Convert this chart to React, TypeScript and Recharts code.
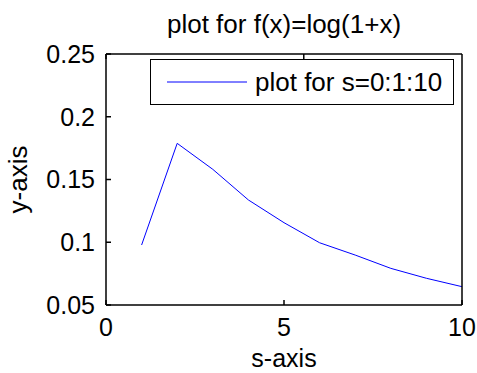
import { LineChart, Line, XAxis, YAxis, Legend, Label } from 'recharts';

// values
const sValues = [1, 2, 3, 4, 5, 6, 7, 8, 9, 10];
const fValues = [0.0978, 0.1788, 0.1581, 0.1337, 0.1156, 0.0996, 0.0898, 0.0792, 0.0713, 0.0646];
const xTicks = [0, 5, 10];
const yTicks = [0.05, 0.1, 0.15, 0.2, 0.25];

const data = sValues.map((s, i) => ({ s, f: fValues[i] }));

const FONT = 'Liberation Sans, Arial, sans-serif';
const tickStyle = { fontSize: 25, fill: '#000', fontFamily: FONT };
const axisStroke = { stroke: '#000', strokeWidth: 1.5 };

function LegendBox() {
  return (
    <div
      style={{
        position: 'absolute',
        left: 150,
        top: 59,
        width: 302,
        height: 44,
        border: '1px solid #000',
        background: '#fff',
        display: 'flex',
        alignItems: 'center',
        fontFamily: FONT,
        fontSize: 26,
        color: '#000',
        boxSizing: 'content-box',
      }}
    >
      <svg width={96} height={10} style={{ marginLeft: 16 }}>
        <line x1={0} y1={5} x2={80} y2={5} stroke="#0000ff" strokeWidth={1} />
      </svg>
      <span style={{ marginLeft: -8, lineHeight: 1 }}>plot for s=0:1:10</span>
    </div>
  );
}

export default function App() {
  return (
    <div style={{ position: 'absolute', left: 0, top: 0, background: '#fff' }}>
      <LineChart width={477} height={373} data={data} margin={{ top: 0, right: 0, bottom: 0, left: 0 }}>
        <XAxis
          dataKey="s"
          type="number"
          domain={[0, 10]}
          ticks={xTicks}
          height={68}
          tickSize={-5}
          tickMargin={18}
          tick={tickStyle}
          axisLine={axisStroke}
          tickLine={axisStroke}
        >
          <Label
            value="s-axis"
            position="insideBottom"
            offset={6}
            style={{ fontSize: 25, fill: '#000', fontFamily: FONT }}
          />
        </XAxis>
        <XAxis
          xAxisId="top"
          orientation="top"
          type="number"
          domain={[0, 10]}
          ticks={xTicks}
          height={54}
          tickSize={-5}
          tickFormatter={() => ''}
          axisLine={axisStroke}
          tickLine={axisStroke}
        >
          <Label
            value="plot for f(x)=log(1+x)"
            position="insideTop"
            offset={15}
            style={{ fontSize: 26, fill: '#000', fontFamily: FONT }}
          />
        </XAxis>
        <YAxis
          type="number"
          domain={[0.05, 0.25]}
          ticks={yTicks}
          width={106}
          tickSize={-5}
          tickMargin={16}
          tick={tickStyle}
          axisLine={axisStroke}
          tickLine={axisStroke}
        >
          <Label
            value="y-axis"
            angle={-90}
            position="insideLeft"
            offset={18}
            style={{ fontSize: 26, fill: '#000', fontFamily: FONT, textAnchor: 'middle' }}
          />
        </YAxis>
        <YAxis
          yAxisId="right"
          orientation="right"
          type="number"
          domain={[0.05, 0.25]}
          ticks={yTicks}
          width={15}
          tickSize={-5}
          tickFormatter={() => ''}
          axisLine={axisStroke}
          tickLine={axisStroke}
        />
        <Legend
          layout="horizontal"
          verticalAlign="middle"
          align="center"
          content={() => <LegendBox />}
          wrapperStyle={{ position: 'absolute', left: 0, top: 0, width: 0, height: 0 }}
        />
        <Line
          type="linear"
          dataKey="f"
          stroke="#0000ff"
          strokeWidth={1}
          dot={false}
          isAnimationActive={false}
        />
      </LineChart>
    </div>
  );
}
